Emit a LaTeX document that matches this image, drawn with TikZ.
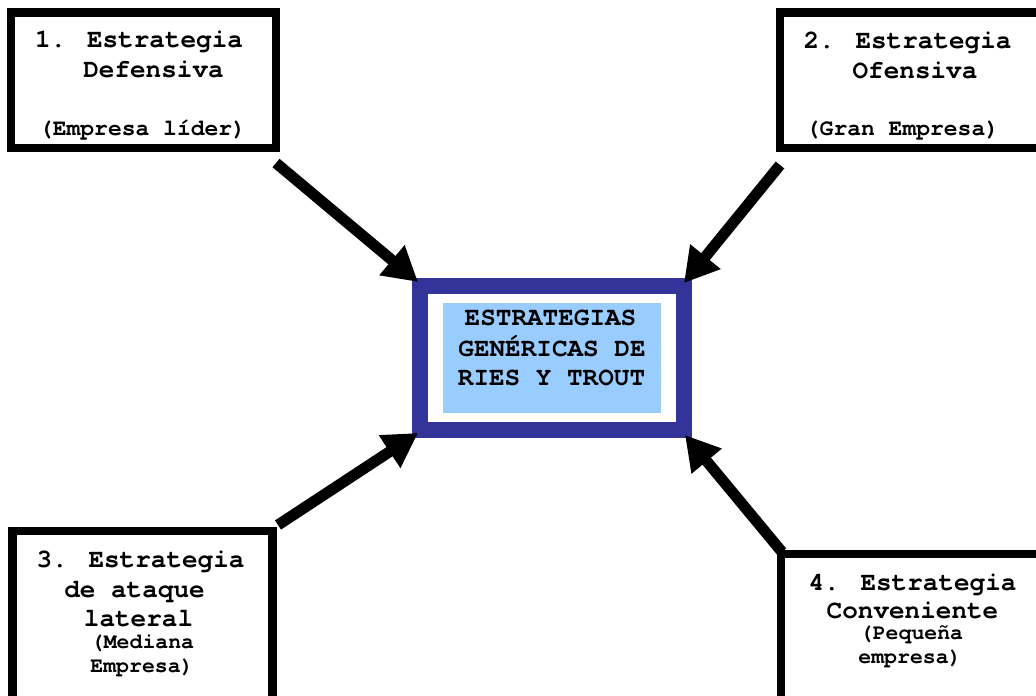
\documentclass[tikz,border=0pt]{standalone}
\usepackage{fontspec}
\setmainfont{texgyrecursor}[Extension=.otf, UprightFont=*-regular, BoldFont=*-bold]
\usetikzlibrary{arrows.meta}
\definecolor{frameblue}{HTML}{333399}
\definecolor{fillblue}{HTML}{99CCFF}
\begin{document}
\begin{tikzpicture}[x=1pt,y=-1pt,
  box/.style={draw=black, line width=8.5pt, fill=white, inner sep=0, outer sep=0},
  txt/.style={inner sep=0, anchor=base, font=\bfseries\fontsize{26}{30}\selectfont},
  subA/.style={inner sep=0, anchor=base, font=\bfseries\fontsize{23}{27}\selectfont},
  subB/.style={inner sep=0, anchor=base, font=\bfseries\fontsize{21.5}{25}\selectfont},
  arr/.style={line width=11pt, -{Triangle[length=34pt,width=37pt]}}]
\useasboundingbox (0,0) rectangle (1036,696);
\clip (0,0) rectangle (1036,696);
\fill[white] (0,0) rectangle (1036,696);
% boxes
\node[box, minimum width=265pt, minimum height=135.5pt] (b1) at (143.5,80.25) {};
\node[box, minimum width=280pt, minimum height=135.5pt] (b2) at (920,80.25) {};
\node[box, minimum width=260pt, minimum height=189pt] (b3) at (142.5,625.5) {};
\node[box, minimum width=279pt, minimum height=166pt] (b4) at (920.5,637) {};
% central
\node[draw=frameblue, line width=16pt, fill=white, inner sep=0, outer sep=0,
      minimum width=264pt, minimum height=144pt] (c) at (552,358) {};
\node[fill=fillblue, inner sep=0, outer sep=0, minimum width=218pt, minimum height=110pt] (cf) at (552,358) {};
% texts box 1
\node[txt] (t1a) at (139,47) {1. Estrategia};
\node[txt] (t1b) at (153.5,77) {Defensiva};
\node[subA] (t1c) at (142.5,135) {(Empresa líder)};
% texts box 2
\node[txt] (t2a) at (907.5,48) {2. Estrategia};
\node[txt] (t2b) at (915,78) {Ofensiva};
\node[subA] (t2c) at (902.5,135) {(Gran Empresa)};
% texts box 3
\node[txt] (t3a) at (140.5,567) {3. Estrategia};
\node[txt] (t3b) at (134.5,597) {de ataque};
\node[txt] (t3c) at (138.5,626) {lateral};
\node[subB] (t3d) at (142.5,648) {(Mediana};
\node[subB] (t3e) at (142,672) {Empresa)};
% texts box 4
\node[txt] (t4a) at (912.5,590) {4. Estrategia};
\node[txt] (t4b) at (912.5,618) {Conveniente};
\node[subB] (t4c) at (911.5,639) {(Pequeña};
\node[subB] (t4d) at (910,663) {empresa)};
% central texts
\node[txt] (ca) at (550.5,325) {ESTRATEGIAS};
\node[txt] (cb) at (552,356) {GENÉRICAS DE};
\node[txt] (cc) at (551.5,385) {RIES Y TROUT};
% arrows
\draw[arr] ([yshift=-15pt]b1.south east) -- ([xshift=-2pt,yshift=4pt]c.north west);
\draw[arr] ([yshift=-17pt]b2.south west) -- ([yshift=3pt]c.north east);
\draw[arr] ([xshift=5.5pt,yshift=6pt]b3.north east) -- ([xshift=-2pt,yshift=-3pt]c.south west);
\draw[arr] ([xshift=1pt,yshift=2pt]b4.north west) -- ([xshift=1pt,yshift=-5pt]c.south east);
\end{tikzpicture}
\end{document}
